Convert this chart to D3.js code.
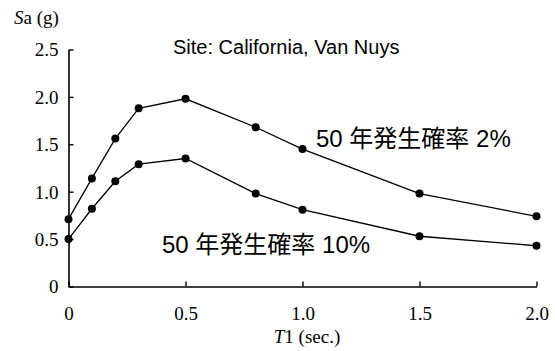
<!DOCTYPE html>
<html>
<head>
<meta charset="utf-8">
<script src="https://cdn.jsdelivr.net/npm/d3@7"></script>
<style>
  html, body { margin: 0; padding: 0; background: #fff; }
  svg { display: block; }
</style>
</head>
<body>
<svg id="chart" width="555" height="351"></svg>
<script>
// Period T1 (sec.) at which the spectral acceleration was evaluated
const periods = [0, 0.1, 0.2, 0.3, 0.5, 0.8, 1.0, 1.5, 2.0];
// Spectral acceleration Sa (g), 2% probability of exceedance in 50 years
const sa2 = [0.71, 1.14, 1.56, 1.88, 1.98, 1.68, 1.45, 0.98, 0.74];
// Spectral acceleration Sa (g), 10% probability of exceedance in 50 years
const sa10 = [0.50, 0.82, 1.11, 1.29, 1.35, 0.98, 0.81, 0.53, 0.43];

const xTicks = [0, 0.5, 1.0, 1.5, 2.0];
const xTickLabels = ["0", "0.5", "1.0", "1.5", "2.0"];
const yTicks = [0, 0.5, 1.0, 1.5, 2.0, 2.5];
const yTickLabels = ["0", "0.5", "1.0", "1.5", "2.0", "2.5"];

const titleText = "Site: California, Van Nuys";
const label2 = "50 年発生確率 2%";
const label10 = "50 年発生確率 10%";

const svg = d3.select("#chart");
const serif = "'Liberation Serif', 'Times New Roman', serif";
const sans = "'Liberation Sans', Arial, 'Noto Sans CJK JP', sans-serif";

const x = d3.scaleLinear().domain([0, 2]).range([68.5, 536.5]);
const y = d3.scaleLinear().domain([0, 2.5]).range([286.5, 49.5]);

// Axes with short inward ticks
const xAxis = d3.axisBottom(x).tickValues(xTicks)
  .tickFormat((d, i) => xTickLabels[i]).tickSizeInner(-5).tickSizeOuter(0).tickPadding(0);
const yAxis = d3.axisLeft(y).tickValues(yTicks)
  .tickFormat((d, i) => yTickLabels[i]).tickSizeInner(-5).tickSizeOuter(0).tickPadding(0);

const gx = svg.append("g").attr("transform", `translate(0,${y(0)})`).call(xAxis);
const gy = svg.append("g").attr("transform", `translate(${x(0)},0)`).call(yAxis);

[gx, gy].forEach(g => {
  g.select(".domain").attr("stroke", "#000").attr("stroke-width", 1.6);
  g.selectAll(".tick line").attr("stroke", "#000").attr("stroke-width", 1.4);
  g.selectAll(".tick text").attr("fill", "#000")
    .style("font-family", serif).style("font-size", "19px");
});
gx.selectAll(".tick text").attr("y", 20).attr("dy", "0.71em");
gy.selectAll(".tick text").attr("x", -10).attr("dy", "0.34em");

// Axis titles
const yt = svg.append("text").attr("x", 14).attr("y", 24)
  .style("font-family", serif).style("font-size", "19px").attr("fill", "#000");
yt.append("tspan").style("font-style", "italic").text("S");
yt.append("tspan").text("a (g)");

const xt = svg.append("text").attr("x", 307).attr("y", 343).attr("text-anchor", "middle")
  .style("font-family", serif).style("font-size", "19px").attr("fill", "#000");
xt.append("tspan").style("font-style", "italic").text("T");
xt.append("tspan").text("1 (sec.)");

// Curves with markers
const line = d3.line().x((d, i) => x(periods[i])).y(d => y(d));
[sa2, sa10].forEach(series => {
  svg.append("path").datum(series).attr("d", line)
    .attr("fill", "none").attr("stroke", "#000").attr("stroke-width", 1.3);
  svg.append("g").selectAll("circle").data(series).join("circle")
    .attr("cx", (d, i) => x(periods[i])).attr("cy", d => y(d)).attr("r", 4)
    .attr("fill", "#000");
});

// Chart title and curve labels
svg.append("text").attr("x", 173).attr("y", 54).text(titleText)
  .style("font-family", sans).style("font-size", "20px").attr("fill", "#000");
svg.append("text").attr("x", 316).attr("y", 147).text(label2)
  .style("font-family", sans).style("font-size", "24px").attr("fill", "#000");
svg.append("text").attr("x", 162).attr("y", 253).text(label10)
  .style("font-family", sans).style("font-size", "24px").attr("fill", "#000");
</script>
</body>
</html>
